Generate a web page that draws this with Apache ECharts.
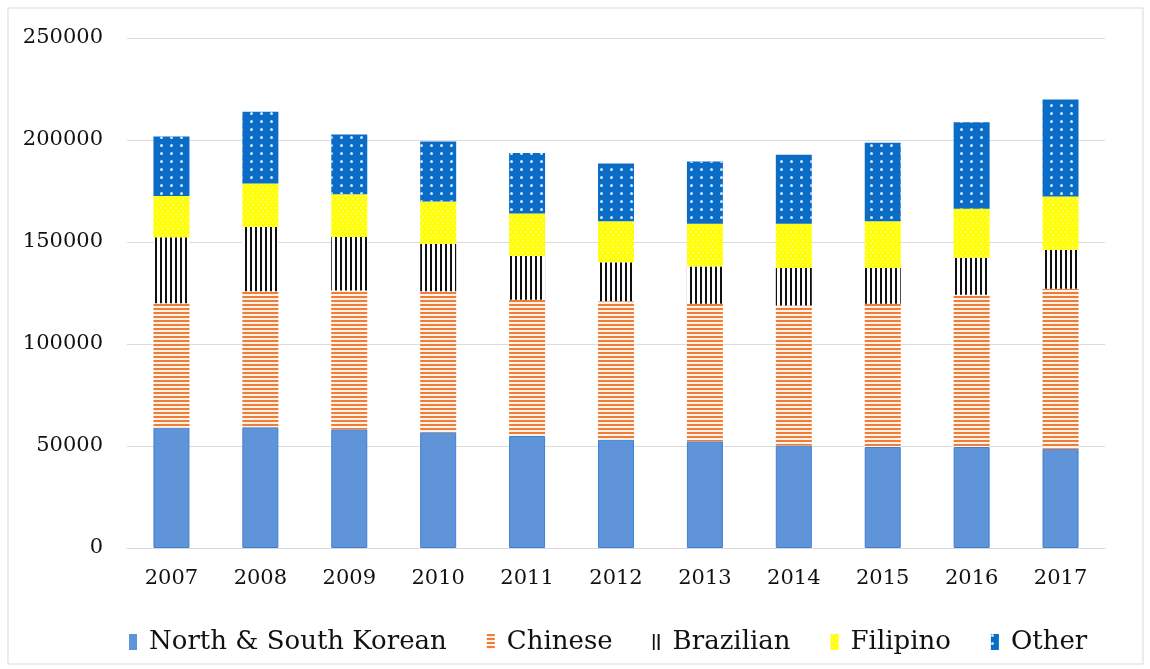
<!DOCTYPE html>
<html>
<head>
<meta charset="utf-8">
<script src="https://cdn.jsdelivr.net/npm/echarts@6/dist/echarts.min.js"></script>
<style>
html,body{margin:0;padding:0;background:#fff;}
#chart{width:1150px;height:669px;}
</style>
</head>
<body>
<div id="chart"></div>
<script>
const years = ['2007','2008','2009','2010','2011','2012','2013','2014','2015','2016','2017'];
const korean    = [59000, 59200, 58200, 56800, 54900, 53100, 52300, 50300, 49500, 49500, 48700];
const chinese   = [61000, 66650, 68000, 69000, 66800, 67800, 67450, 68600, 70250, 74650, 78400];
const brazilian = [32300, 31450, 26200, 23400, 21400, 19200, 18250, 18300, 17450, 18150, 19100];
const filipino  = [20200, 21350, 21000, 20700, 20900, 20100, 20950, 21750, 23000, 24000, 26100];
const other     = [29200, 35200, 29300, 29400, 29600, 28300, 30550, 33850, 38450, 42400, 47550];
const yTicks = [0, 50000, 100000, 150000, 200000, 250000];

const font = 'DejaVu Serif';
const chart = echarts.init(document.getElementById('chart'), null, {renderer: 'canvas'});

function bar(name, data, itemStyle) {
  return { name, type: 'bar', stack: 'total', data, barWidth: 36, itemStyle };
}

chart.setOption({
  backgroundColor: '#fff',
  animation: false,
  aria: { enabled: false },
  graphic: [{
    type: 'rect', shape: { x: 8, y: 8, width: 1135, height: 656 },
    style: { fill: 'none', stroke: '#d9d9d9', lineWidth: 1 }
  }],
  grid: { left: 127, right: 45, top: 38, bottom: 121 },
  legend: {
    left: 124, top: 624, itemWidth: 8, itemHeight: 16, itemGap: 40, icon: 'rect',
    itemStyle: { borderWidth: 0 },
    textStyle: { fontFamily: font, fontSize: 26, color: '#111', padding: [0, 0, 0, 7] },
    data: ['North & South Korean', 'Chinese', 'Brazilian', 'Filipino', 'Other']
  },
  xAxis: {
    type: 'category', data: years,
    axisLine: { show: true, lineStyle: { color: '#d9d9d9' } },
    axisTick: { show: false },
    axisLabel: { fontFamily: font, fontSize: 21, color: '#111', margin: 20 }
  },
  yAxis: {
    type: 'value', min: 0, max: 250000, interval: 50000,
    axisLine: { show: false }, axisTick: { show: false },
    splitLine: { lineStyle: { color: '#dcdcdc' } },
    axisLabel: { fontFamily: font, fontSize: 21, color: '#111', margin: 24,
      formatter: v => yTicks.includes(v) ? String(v) : '' }
  },
  series: [
    bar('North & South Korean', korean, { color: '#5f95d8', borderColor: '#3f7fd0', borderWidth: 1 }),
    bar('Chinese', chinese, { color: '#fff2e6',
      decal: { symbol: 'rect', symbolSize: 1, color: '#ee7d3a', dashArrayX: [1, 0], dashArrayY: [2, 1.2], rotation: 0 } }),
    bar('Brazilian', brazilian, { color: '#ffffff',
      decal: { symbol: 'rect', symbolSize: 1, color: '#111111', dashArrayX: [1.8, 2.2], dashArrayY: [1, 0], rotation: 0 } }),
    bar('Filipino', filipino, { color: '#ffff00',
      decal: { symbol: 'circle', symbolSize: 0.8, color: '#fffbd0', dashArrayX: [[1.5, 2.5], [0, 2, 1.5, 0.5]], dashArrayY: [1.5, 0.6], rotation: 0 } }),
    bar('Other', other, { color: '#0a6cc4',
      decal: { symbol: 'circle', symbolSize: 1, color: '#cfe6ff', dashArrayX: [2.2, 6.3], dashArrayY: [2.2, 5], rotation: 0 } })
  ]
});
</script>
</body>
</html>
